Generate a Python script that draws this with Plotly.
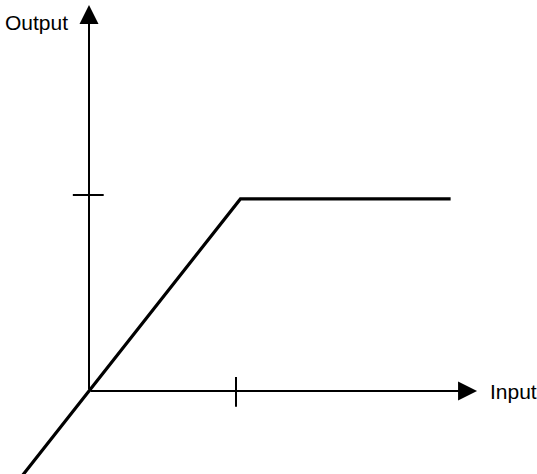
import plotly.graph_objects as go

# Saturation characteristic (input -> output), tick at 1 on both axes
input_vals = [-0.5, 0.0, 1.03, 2.46]
output_vals = [-0.476, 0.0, 0.98, 0.98]

x_tick_val = 1.0
y_tick_val = 1.0
x_axis_end = 2.64
y_axis_end = 1.97
x_label = "Input"
y_label = "Output"

fig = go.Figure()
fig.add_trace(go.Scatter(x=input_vals, y=output_vals, mode="lines",
                         line=dict(color="black", width=3.2), hoverinfo="skip"))

# axis lines with arrowheads
fig.add_annotation(x=x_axis_end, y=0, ax=0, ay=0, xref="x", yref="y",
                   axref="x", ayref="y", showarrow=True, arrowhead=2,
                   arrowsize=1.9, arrowwidth=2, arrowcolor="black", text="")
fig.add_annotation(x=0, y=y_axis_end, ax=0, ay=0, xref="x", yref="y",
                   axref="x", ayref="y", showarrow=True, arrowhead=2,
                   arrowsize=1.9, arrowwidth=2, arrowcolor="black", text="")

# tick marks
fig.add_shape(type="line", x0=x_tick_val, x1=x_tick_val, y0=-0.08, y1=0.072,
              line=dict(color="black", width=2))
fig.add_shape(type="line", x0=-0.11, x1=0.10, y0=y_tick_val, y1=y_tick_val,
              line=dict(color="black", width=2))

# labels
fig.add_annotation(x=2.715, y=0, xref="x", yref="y", text=x_label, showarrow=False,
                   xanchor="left", yanchor="middle",
                   font=dict(family="Liberation Sans, Arial", size=21, color="black"))
fig.add_annotation(x=-0.128, y=1.88, xref="x", yref="y", text=y_label, showarrow=False,
                   xanchor="right", yanchor="middle",
                   font=dict(family="Liberation Sans, Arial", size=21, color="black"))

fig.update_layout(
    width=537, height=474,
    margin=dict(l=0, r=0, t=0, b=0),
    paper_bgcolor="white", plot_bgcolor="white",
    showlegend=False,
    xaxis=dict(range=[-0.6054, 3.0476], visible=False, fixedrange=True),
    yaxis=dict(range=[-0.4235, 1.9949], visible=False, fixedrange=True),
)

fig.write_html("out.html", post_script="document.body.style.margin='0';",
               config={"displayModeBar": False})
